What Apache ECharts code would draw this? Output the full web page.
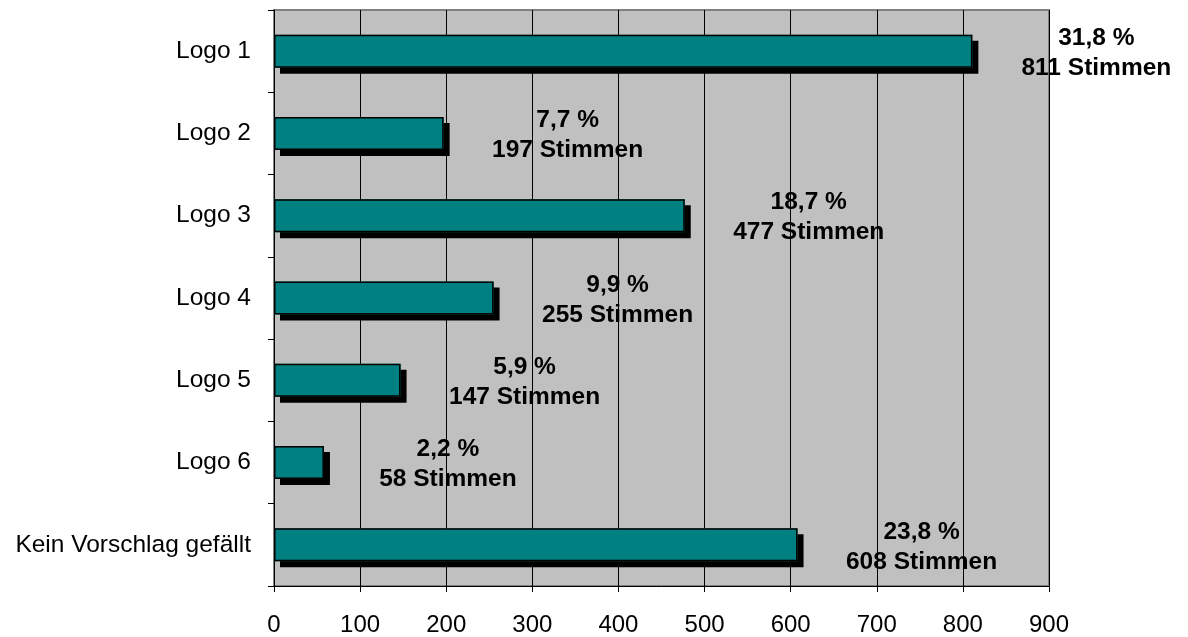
<!DOCTYPE html>
<html>
<head>
<meta charset="utf-8">
<script src="https://cdn.jsdelivr.net/npm/echarts@6/dist/echarts.min.js"></script>
<style>
  html, body { margin: 0; padding: 0; background: #fff; }
  #chart { width: 1188px; height: 637px; }
</style>
</head>
<body>
<div id="chart"></div>
<script>
// Kategorien (von oben nach unten)
var categories = ['Logo 1', 'Logo 2', 'Logo 3', 'Logo 4', 'Logo 5', 'Logo 6', 'Kein Vorschlag gefällt'];
// Stimmen je Kategorie
var votes = [811, 197, 477, 255, 147, 58, 608];
// Anteil in Prozent (Beschriftung)
var percents = ['31,8', '7,7', '18,7', '9,9', '5,9', '2,2', '23,8'];
// X-Achse
var xTicks = [0, 100, 200, 300, 400, 500, 600, 700, 800, 900];

var myChart = echarts.init(document.getElementById('chart'));

var font = 'Liberation Sans, Arial, sans-serif';

var option = {
    animation: false,
    grid: {
        left: 274,
        right: 139,
        top: 10,
        bottom: 50,
        show: true,
        backgroundColor: '#C0C0C0',
        borderColor: '#808080',
        borderWidth: 2
    },
    xAxis: {
        type: 'value',
        min: xTicks[0],
        max: xTicks[xTicks.length - 1],
        interval: 100,
        axisLine: { show: true, lineStyle: { color: '#000', width: 1 } },
        axisTick: { show: true, length: 6, lineStyle: { color: '#000' } },
        axisLabel: { color: '#000', fontFamily: font, fontSize: 24, margin: 27 },
        splitLine: { show: true, lineStyle: { color: '#000', width: 1 } }
    },
    yAxis: {
        type: 'category',
        inverse: true,
        data: categories,
        axisLine: { show: true, lineStyle: { color: '#000', width: 1 } },
        axisTick: { show: true, length: 6, lineStyle: { color: '#000' } },
        axisLabel: { color: '#000', fontFamily: font, fontSize: 24.5, margin: 23 },
        splitLine: { show: false }
    },
    series: [
        {
            // Balken mit Schatten (ohne Rand)
            type: 'bar',
            data: votes,
            barWidth: 33,
            barGap: '-100%',
            silent: true,
            itemStyle: {
                color: '#008080',
                shadowColor: '#000',
                shadowBlur: 0,
                shadowOffsetX: 6,
                shadowOffsetY: 6
            }
        },
        {
            // Rand + Beschriftung
            type: 'bar',
            data: votes,
            barWidth: 33,
            barGap: '-100%',
            itemStyle: {
                color: 'rgba(0,0,0,0)',
                borderColor: '#000',
                borderWidth: 1.5
            },
            label: {
                show: true,
                position: 'right',
                distance: 0,
                align: 'center',
                offset: [124, 2],
                color: '#000',
                fontFamily: font,
                fontWeight: 'bold',
                fontSize: 24.5,
                lineHeight: 30,
                formatter: function (p) {
                    return percents[p.dataIndex] + ' %\n' + p.value + ' Stimmen';
                }
            }
        }
    ]
};

myChart.setOption(option, true);
window.addEventListener('resize', myChart.resize);
</script>
</body>
</html>
